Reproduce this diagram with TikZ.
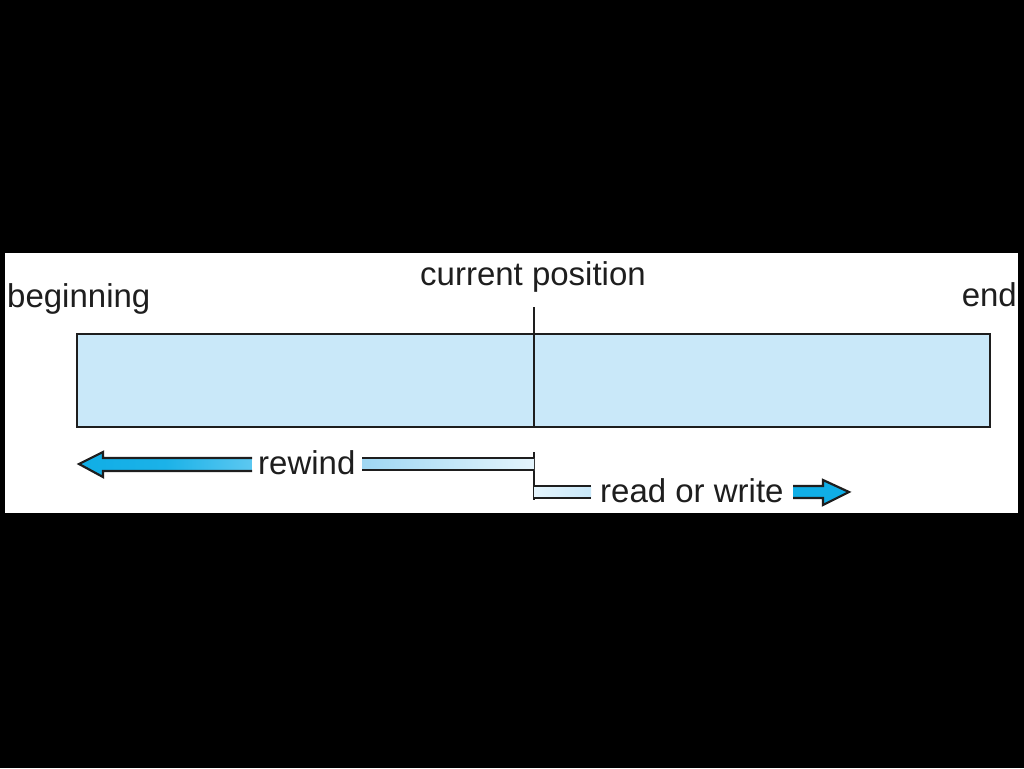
\documentclass[tikz,border=0pt]{standalone}
\usepackage{fontspec}
\setmainfont{Liberation Sans}
\definecolor{tapeblue}{HTML}{C9E8F9}
\definecolor{arrcyan}{HTML}{10AEE6}
\definecolor{arrmid}{HTML}{5CC8F1}
\definecolor{arrlight}{HTML}{9FD7F3}
\definecolor{arrpale}{HTML}{E4F4FC}
\definecolor{ink}{HTML}{1E1E1E}
\begin{document}
\begin{tikzpicture}[x=1pt,y=-1pt,
  lbl/.style={inner sep=0pt, font=\fontsize{33}{40}\selectfont, text=ink},
  outl/.style={line width=2.2pt, draw=ink},
  tapebox/.style={draw=ink, fill=tapeblue, line width=2pt, inner sep=0pt, minimum width=913pt, minimum height=93pt}]
\useasboundingbox (0,0) rectangle (1024,768);
\fill[black] (0,0) rectangle (1024,768);
\fill[white] (5,253) rectangle (1018,513);
% tape
\node[tapebox] (tape) at (533.5,380.5) {};
% labels
\node[lbl, anchor=base west] (beg) at (7,307) {beginning};
\node[lbl, anchor=base east] (endl) at (1017,306) {end};
\node[lbl, anchor=base] (cur) at (533,285) {current position};
\node[lbl, anchor=base west] (rew) at (258,474) {rewind};
\node[lbl, anchor=base west] (rw) at (600,502) {read or write};
% current position line
\coordinate (ptop) at (534,307);
\draw[line width=1.8pt, draw=ink] (ptop) -- (ptop |- tape.south);
% tick below
\coordinate (tickA) at (534,452);
\coordinate (tickB) at (534,500);
\draw[line width=2pt, draw=ink] (tickA) -- (tickB);
% rewind arrow, left part with head
\shade[left color=arrcyan, right color=arrmid, middle color=arrcyan!85!arrmid]
  (252,458) -- (103,458) -- (103,452) -- (79,464) -- (103,477) -- (103,471) -- (252,471) -- cycle;
\draw[outl, line join=miter] (252,458) -- (103,458) -- (103,452) -- (79,464) -- (103,477) -- (103,471) -- (252,471);
% rewind arrow, right part
\shade[left color=arrlight, right color=arrpale] (362,458) rectangle (534,470);
\draw[outl] (362,458) -- (tickA |- 0,458);
\draw[outl] (362,470) -- (tickA |- 0,470);
% read/write arrow, left part
\shade[left color=arrpale, right color=tapeblue] (534,486) rectangle (591,498);
\draw[outl] (tickA |- 0,486) -- (591,486);
\draw[outl] (tickA |- 0,498) -- (591,498);
% read/write arrow, right part with head
\fill[arrcyan]
  (793,486) -- (823,486) -- (823,480) -- (849,492) -- (823,505) -- (823,498) -- (793,498) -- cycle;
\draw[outl, line join=miter] (793,486) -- (823,486) -- (823,480) -- (849,492) -- (823,505) -- (823,498) -- (793,498);
\end{tikzpicture}
\end{document}
